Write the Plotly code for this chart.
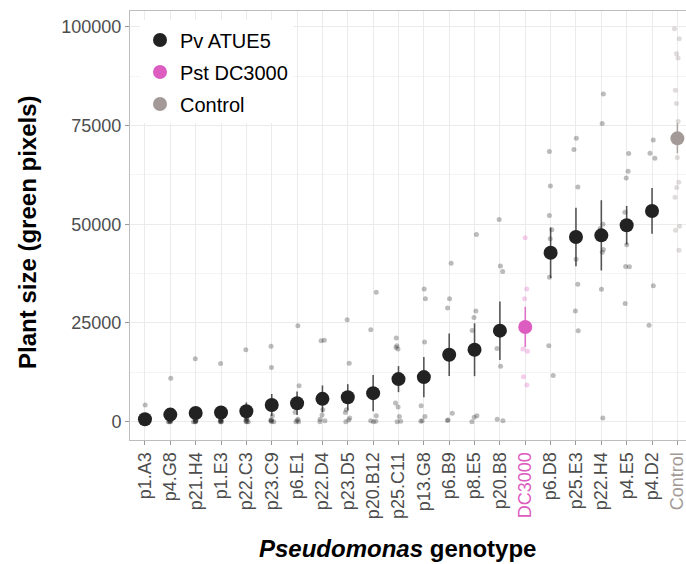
import plotly.graph_objects as go

categories = ["p1.A3", "p4.G8", "p21.H4", "p1.E3", "p22.C3", "p23.C9", "p6.E1", "p22.D4",
              "p23.D5", "p20.B12", "p25.C11", "p13.G8", "p6.B9", "p8.E5", "p20.B8", "DC3000",
              "p6.D8", "p25.E3", "p22.H4", "p4.E5", "p4.D2", "Control"]
groups = ["Pv ATUE5"] * 15 + ["Pst DC3000"] + ["Pv ATUE5"] * 5 + ["Control"]

means = [600, 1780, 2200, 2300, 2650, 4200, 4650, 5770, 6190, 7210, 10770, 11280,
         16950, 18220, 23040, 23980, 42780, 46750, 47180, 49720, 53360, 71750]
se = [400, 1000, 1500, 1500, 2200, 2800, 3000, 3400, 3300, 4600, 3300, 5100,
      5400, 6700, 7400, 5100, 6400, 7400, 8900, 4900, 5800, 3800]

points = [
    [4200, 0, 0, 0, 100, 200, 300, 0],
    [11000, 0, 0, 200, 300, 500, 0, 100],
    [15900, 0, 0, 300, 0, 200, 500, 100],
    [14700, 0, 0, 400, 200, 600, 0, 300],
    [18200, 0, 0, 500, 1000, 300, 0, 800],
    [19100, 13700, 0, 200, 0, 500, 1500, 300],
    [24300, 9100, 2400, 0, 300, 0, 600],
    [20600, 20500, 3000, 1700, 600, 0, 200],
    [25800, 14800, 3000, 2300, 900, 400, 0],
    [32800, 23300, 1500, 100, 0, 200],
    [21200, 19200, 18400, 18800, 4700, 3700, 1300, 100, 0],
    [33600, 31100, 20200, 4000, 1300, 200, 100],
    [40100, 31100, 28800, 2100, 400, 300],
    [47400, 28000, 26400, 23100, 1500, 1100, 0],
    [51200, 39400, 38000, 18500, 14000, 600, 200],
    [46600, 33600, 31100, 18400, 17800, 11400, 9300],
    [68400, 59700, 52200, 48600, 46300, 36600, 19200, 11700],
    [71800, 68900, 59400, 41100, 34800, 28000, 23000],
    [83000, 75500, 50000, 48900, 43600, 42900, 33500, 900],
    [67900, 63400, 61700, 53000, 44800, 39300, 39200, 29900],
    [71300, 68000, 66700, 34400, 24400],
    [99500, 97000, 93200, 92100, 83900, 80600, 76000, 66900, 60600, 59300, 56800, 49500, 48500, 43400],
]

group_names = ["Pv ATUE5", "Pst DC3000", "Control"]
group_colors = {"Pv ATUE5": "#222222", "Pst DC3000": "#DD5CC0", "Control": "#A39A97"}
point_colors = {"Pv ATUE5": "rgba(34,34,34,0.3)", "Pst DC3000": "rgba(221,92,192,0.3)",
                "Control": "rgba(163,154,151,0.35)"}
bar_colors = {"Pv ATUE5": "rgba(34,34,34,0.75)", "Pst DC3000": "rgba(221,92,192,0.85)",
              "Control": "rgba(163,154,151,0.85)"}
y_ticks = [0, 25000, 50000, 75000, 100000]

fig = go.Figure()

# raw points (jittered by plotly's box point jitter)
for g in group_names:
    xs, ys = [], []
    for c, gg, pts in zip(categories, groups, points):
        if gg == g:
            xs += [c] * len(pts)
            ys += pts
    fig.add_trace(go.Box(
        x=xs, y=ys, boxpoints="all", jitter=0.5, pointpos=0, width=0.5,
        fillcolor="rgba(0,0,0,0)", line=dict(width=0, color="rgba(0,0,0,0)"),
        marker=dict(size=5, color=point_colors[g]),
        showlegend=False, hoverinfo="y",
    ))

# means with SE bars
for i, g in enumerate(group_names):
    xs = [c for c, gg in zip(categories, groups) if gg == g]
    ys = [m for m, gg in zip(means, groups) if gg == g]
    es = [s for s, gg in zip(se, groups) if gg == g]
    fig.add_trace(go.Scatter(
        x=xs, y=ys, mode="markers", name=g, legendgroup=g,
        marker=dict(size=14, color=group_colors[g]),
        error_y=dict(type="data", array=es, visible=True, width=0,
                     thickness=1.6, color=bar_colors[g]),
    ))

tick_text = []
for c, g in zip(categories, groups):
    if g == "Pv ATUE5":
        tick_text.append(c)
    else:
        tick_text.append(f'<span style="color:{group_colors[g]}">{c}</span>')

fig.update_layout(
    width=686, height=564,
    margin=dict(l=130, r=0, t=11, b=124),
    plot_bgcolor="white", paper_bgcolor="white",
    font=dict(family="Liberation Sans, Arial, sans-serif", color="#4D4D4D"),
    boxmode="overlay",
    showlegend=True,
    legend=dict(x=0.018, y=0.978, xanchor="left", yanchor="top",
                bgcolor="white", font=dict(size=20, color="black"),
                traceorder="grouped", tracegroupgap=3, itemsizing="trace"),
    xaxis=dict(
        type="category", categoryorder="array", categoryarray=categories,
        tickvals=categories, ticktext=tick_text, tickangle=-90,
        range=[-0.59, 21.34],
        showgrid=True, gridcolor="#EBEBEB", gridwidth=1.2,
        showline=True, mirror=True, linecolor="#BDBDBD", linewidth=1,
        ticks="outside", ticklen=4, tickcolor="#9A9A9A",
        tickfont=dict(size=18, color="#4D4D4D"),
        zeroline=False, automargin=False,
    ),
    yaxis=dict(
        range=[-4650, 104000],
        tickvals=y_ticks, ticktext=[str(v) for v in y_ticks],
        showgrid=True, gridcolor="#EBEBEB", gridwidth=1.2,
        minor=dict(dtick=12500, tick0=0, showgrid=True, gridcolor="#F4F4F4", gridwidth=0.8),
        showline=True, linecolor="#BDBDBD", linewidth=1,
        ticks="outside", ticklen=4, tickcolor="#9A9A9A",
        tickfont=dict(size=18, color="#4D4D4D"),
        zeroline=False, automargin=False,
    ),
    annotations=[
        dict(text="<b><i>Pseudomonas</i> genotype</b>", xref="paper", yref="paper",
             x=0.482, y=-0.252, xanchor="center", yanchor="middle", showarrow=False,
             font=dict(size=24, color="black")),
        dict(text="<b>Plant size (green pixels)</b>", xref="paper", yref="paper",
             x=-0.1835, y=0.485, xanchor="center", yanchor="middle", showarrow=False,
             textangle=-90, font=dict(size=24, color="black")),
    ],
)

fig.write_html("out.html", config={"displayModeBar": False},
               post_script="document.body.style.margin='0';document.body.style.overflow='hidden';")
